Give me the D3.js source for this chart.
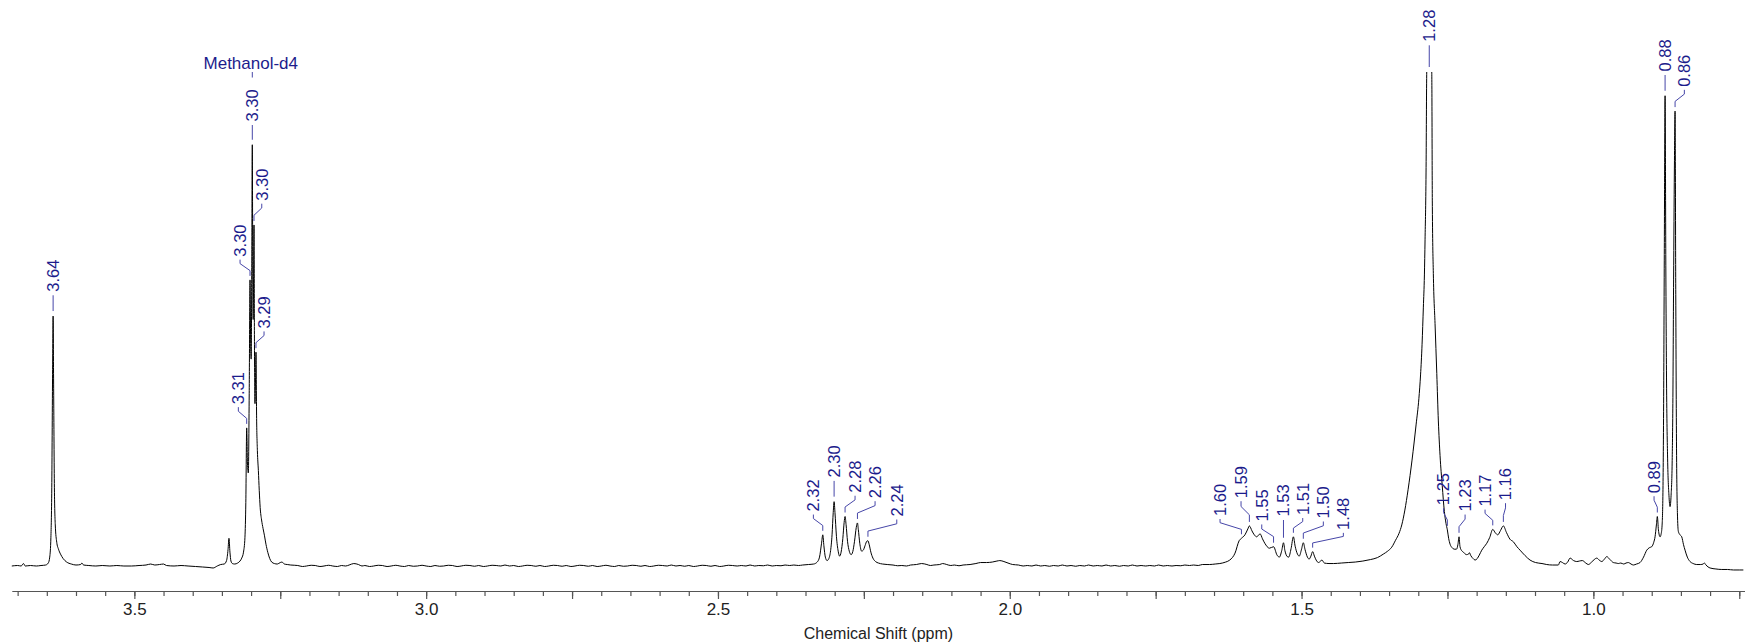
<!DOCTYPE html>
<html><head><meta charset="utf-8">
<script src="https://cdn.jsdelivr.net/npm/d3@7"></script>
<style>
html,body{margin:0;padding:0;background:#fff;}
svg{display:block;font-family:"Liberation Sans", Arial, sans-serif;}
</style></head><body>
<svg id="chart" width="1745" height="644"></svg>
<script>
// ---- DATA ----
// spectrum: [chemical shift (ppm), intensity (relative, 1.28 ppm peak = 100 at plot top)]
const spectrum = [
[3.710,0.2],[3.700,0.3],[3.694,0.2],[3.690,0.7],[3.687,0.2],[3.678,0.3],[3.668,0.2],[3.660,0.3],[3.652,0.4],
[3.6475,0.8],[3.645,2.0],[3.643,6],[3.6415,16],[3.6402,38],[3.6392,50.7],[3.6383,36],[3.6370,16],[3.6355,8.5],
[3.633,5],[3.630,3.6],[3.6265,2.6],[3.622,1.7],[3.616,1.0],[3.608,0.6],[3.600,0.4],[3.592,0.5],[3.590,0.8],
[3.587,0.4],[3.578,0.3],[3.566,0.2],[3.555,0.3],[3.542,0.2],[3.530,0.3],[3.518,0.2],[3.505,0.2],[3.492,0.3],
[3.480,0.4],[3.472,0.6],[3.465,0.4],[3.457,0.5],[3.450,0.6],[3.445,0.3],[3.432,0.2],[3.420,0.3],[3.408,0.2],
[3.395,0.1],[3.383,0.0],[3.372,-0.1],[3.365,-0.2],[3.358,0.2],[3.352,0.5],[3.346,0.6],[3.342,1.3],[3.3395,3.5],
[3.3379,5.8],[3.3362,3.0],[3.3345,1.2],[3.332,0.7],[3.328,0.6],[3.323,0.8],[3.319,1.2],[3.3160,1.8],[3.3130,3.0],
[3.3105,6],[3.3090,13],[3.3075,28.1],[3.3062,21],[3.3047,19],[3.3032,35],[3.3018,58],[3.3006,44],[3.2998,42],
[3.2988,62],[3.2979,85.3],[3.2971,58],[3.2964,50],[3.2957,58],[3.2950,69.1],[3.2942,45],[3.2933,33],[3.2925,37],
[3.2916,43.4],[3.2905,30],[3.2892,23.5],[3.2875,19.5],[3.2860,15.5],[3.2844,12],[3.2820,9.5],[3.2795,7.8],
[3.2770,6.3],[3.2745,4.6],[3.2712,2.9],[3.2680,1.7],[3.2647,1.0],[3.2600,0.7],[3.2550,0.6],[3.2500,0.9],
[3.2470,1.0],[3.2430,0.6],[3.2380,0.5],[3.2320,0.4],
[3.220,0.3],[3.212,0.1],[3.205,0.2],[3.197,0.35],[3.190,0.3],[3.182,0.1],[3.175,0.2],[3.167,0.35],[3.160,0.2],
[3.152,0.1],[3.145,0.3],[3.138,0.2],[3.132,0.4],[3.124,0.7],[3.116,0.5],[3.110,0.2],
[3.105,0.3],[3.097,0.1],[3.090,0.2],[3.082,0.35],[3.075,0.3],[3.067,0.1],[3.060,0.2],[3.052,0.35],[3.045,0.2],
[3.037,0.1],[3.030,0.3],[3.022,0.15],[3.015,0.2],[3.007,0.35],[3.000,0.2],[2.992,0.1],[2.985,0.3],
[2.977,0.15],[2.970,0.2],[2.962,0.35],[2.955,0.3],[2.947,0.1],[2.940,0.2],[2.932,0.35],[2.925,0.3],[2.917,0.15],
[2.910,0.3],[2.902,0.1],[2.895,0.2],[2.887,0.35],[2.880,0.3],[2.872,0.2],[2.865,0.4],[2.857,0.2],[2.850,0.3],
[2.842,0.1],[2.835,0.2],[2.827,0.35],[2.820,0.3],[2.812,0.15],[2.805,0.3],[2.797,0.1],[2.790,0.2],[2.782,0.35],
[2.775,0.3],[2.767,0.15],[2.760,0.3],[2.752,0.1],[2.745,0.2],[2.737,0.35],[2.730,0.3],[2.722,0.15],[2.715,0.3],
[2.707,0.1],[2.700,0.2],[2.692,0.35],[2.685,0.2],[2.677,0.1],[2.670,0.3],[2.662,0.15],[2.655,0.2],[2.647,0.35],
[2.640,0.3],[2.632,0.15],[2.625,0.3],[2.617,0.1],[2.610,0.2],[2.602,0.35],[2.595,0.3],[2.587,0.2],[2.580,0.4],
[2.572,0.2],[2.565,0.3],[2.557,0.15],[2.550,0.3],[2.542,0.1],[2.535,0.2],[2.527,0.35],[2.520,0.3],[2.512,0.15],
[2.505,0.3],[2.497,0.1],[2.490,0.2],[2.482,0.35],[2.475,0.3],[2.467,0.2],[2.460,0.3],[2.452,0.2],[2.445,0.4],
[2.437,0.2],[2.430,0.3],[2.422,0.25],[2.415,0.4],[2.407,0.2],[2.400,0.3],[2.392,0.25],[2.385,0.4],[2.377,0.3],
[2.370,0.4],[2.362,0.3],[2.355,0.4],[2.345,0.5],[2.336,0.6],[2.330,1.0],
[2.326,2.0],[2.3225,4.8],[2.3204,6.5],[2.3185,4.3],[2.3160,2.0],[2.3130,1.3],[2.3100,1.7],[2.3070,3.3],
[2.3045,6.5],[2.3025,11],[2.3010,13.2],[2.2995,11],[2.2970,6.2],[2.2940,3.2],[2.2915,2.2],[2.2890,3.0],
[2.2860,5.8],[2.2838,9.0],[2.2822,10.2],[2.2805,8.6],[2.2780,5.2],[2.2750,3.2],[2.2718,2.5],[2.2690,3.1],
[2.2660,5.2],[2.2630,8.0],[2.2610,8.9],[2.2595,7.6],[2.2570,4.8],[2.2538,3.2],[2.2510,3.4],[2.2480,4.3],
[2.2450,5.2],[2.2430,5.3],[2.2410,4.6],[2.2380,3.0],[2.2345,1.8],[2.2300,1.1],[2.2250,0.8],[2.2180,0.6],
[2.2100,0.5],[2.200,0.4],[2.192,0.25],[2.185,0.3],[2.177,0.2],[2.170,0.4],[2.160,0.5],[2.151,0.7],[2.142,0.5],
[2.136,0.3],[2.130,0.4],[2.120,0.5],[2.115,0.7],[2.108,0.5],[2.101,0.3],[2.095,0.4],[2.087,0.25],[2.080,0.4],
[2.068,0.5],[2.058,0.7],[2.050,0.9],[2.040,0.9],[2.030,1.0],
[2.022,1.2],[2.017,1.3],[2.010,1.1],[2.003,0.8],[1.995,0.5],[1.985,0.4],[1.977,0.2],[1.970,0.3],[1.962,0.2],
[1.955,0.4],[1.947,0.2],[1.940,0.3],[1.932,0.15],[1.925,0.3],[1.917,0.2],[1.910,0.4],[1.902,0.2],[1.895,0.3],
[1.887,0.15],[1.880,0.3],[1.872,0.2],[1.865,0.4],[1.857,0.2],[1.850,0.3],[1.842,0.2],[1.835,0.4],[1.827,0.2],
[1.820,0.3],[1.812,0.15],[1.805,0.3],[1.797,0.2],[1.790,0.4],[1.782,0.2],[1.775,0.3],[1.767,0.2],[1.760,0.3],
[1.752,0.2],[1.745,0.4],[1.737,0.2],[1.730,0.3],[1.722,0.2],[1.715,0.3],[1.707,0.25],[1.700,0.4],[1.692,0.3],
[1.685,0.4],[1.677,0.3],[1.670,0.5],
[1.658,0.5],[1.648,0.6],[1.640,0.7],[1.630,1.0],[1.623,1.4],[1.614,2.8],[1.607,5.3],[1.603,5.8],[1.597,6.5],
[1.592,7.7],[1.5894,8.3],[1.585,7.3],[1.581,6.5],[1.577,6.1],[1.571,6.7],[1.567,5.7],[1.563,4.8],[1.555,3.8],
[1.548,4.1],[1.542,2.4],[1.538,2.0],[1.534,3.3],[1.531,4.9],[1.5285,3.3],[1.5245,2.1],[1.522,2.0],[1.518,3.7],
[1.514,6.1],[1.511,4.2],[1.507,2.6],[1.504,2.2],[1.500,3.6],[1.497,4.9],[1.494,3.5],[1.490,2.0],[1.487,1.6],
[1.484,2.2],[1.481,3.1],[1.478,2.2],[1.475,1.4],[1.471,0.9],[1.465,1.4],[1.461,0.8],[1.453,0.7],[1.445,0.7],
[1.432,0.8],[1.420,0.9],[1.408,1.0],[1.395,1.2],[1.382,1.5],[1.370,1.9],[1.360,2.6],[1.3525,3.2],[1.3455,4.0],
[1.339,5.4],[1.3330,6.8],[1.3283,8.5],[1.3230,11.5],[1.3175,15.6],[1.3107,21.6],[1.3038,28.7],[1.2990,34],
[1.2961,38.8],[1.2935,45],[1.2913,52.5],[1.2895,59],[1.2884,66.1],[1.2867,79.6],[1.2855,100],[1.2812,112],
[1.2769,100],[1.2759,72.8],[1.2742,59.3],[1.2713,49.2],[1.2683,39.1],[1.2656,29.5],[1.2627,22.5],[1.2590,16.5],
[1.2553,11.2],[1.2525,8.8],[1.2502,7.5],[1.2480,5.8],[1.2455,4.6],[1.2420,3.9],[1.2385,3.6],[1.2345,3.6],
[1.2320,4.6],[1.2302,6.1],[1.2285,4.1],[1.2256,3.3],[1.2227,3.0],[1.2175,2.5],[1.2140,2.6],[1.2125,2.9],
[1.2100,2.3],[1.2060,1.7],[1.2027,1.4],[1.1990,1.7],[1.1955,2.4],[1.1912,3.4],[1.1870,4.1],[1.1826,4.8],
[1.1775,6.0],[1.1724,7.6],[1.1680,6.9],[1.1638,6.5],[1.1590,7.4],[1.1542,8.3],[1.1490,7.0],[1.1428,5.6],
[1.1371,5.1],[1.1310,4.1],[1.1256,3.4],[1.1170,2.3],[1.1085,1.4],[1.0990,0.9],[1.0880,0.7],[1.0799,0.5],
[1.0700,0.4],[1.0600,0.4],[1.0571,1.1],[1.0530,0.9],[1.0485,0.6],[1.0440,1.0],[1.0399,1.8],[1.0340,1.3],
[1.0285,1.1],[1.0240,1.2],[1.0189,1.3],[1.0130,0.8],[1.0086,0.5],[1.0030,1.0],[0.9985,1.5],[0.9942,1.8],
[0.9900,1.4],[0.9856,1.1],[0.9810,1.6],[0.9771,2.1],[0.9715,1.5],[0.9658,0.9],[0.9610,0.8],[0.9572,0.7],
[0.9530,0.8],[0.9480,0.6],[0.9440,0.8],[0.9400,0.9],[0.9355,0.6],[0.9315,0.4],[0.9260,0.6],[0.9200,0.9],
[0.9140,2.0],[0.9085,3.4],[0.9040,3.9],[0.9000,4.1],[0.8965,5.0],[0.8943,6.1],[0.8920,8.5],[0.8904,10.2],
[0.8885,7.5],[0.8857,6.1],[0.8840,6.6],[0.8823,8.3],[0.8808,15],[0.8796,33],[0.8785,62],[0.8771,95.2],
[0.8758,60],[0.8745,36],[0.8728,22],[0.8705,14.5],[0.8686,12.2],[0.8668,14.5],[0.8650,21],[0.8638,33],
[0.8625,58],[0.8612,80],[0.8600,92.1],[0.8588,55],[0.8575,24],[0.8560,11],[0.8544,7.2],[0.8515,6.5],
[0.8486,6.1],[0.8455,4.5],[0.8429,3.4],[0.8390,2.0],[0.8343,1.1],[0.8290,0.7],[0.8229,0.5],[0.8160,0.5],
[0.8120,0.6],[0.8098,0.8],[0.8070,0.4],[0.8000,-0.2],[0.7900,-0.4],[0.7800,-0.5],[0.7700,-0.5],[0.7600,-0.6],
[0.7500,-0.6],[0.7430,-0.6]
];

const tickLabels = [3.5, 3.0, 2.5, 2.0, 1.5, 1.0];
const axisTitle = "Chemical Shift (ppm)";

// peak picking annotations
const peakLabels = ["3.64","3.31","3.30","3.30","3.30","3.29","2.32","2.30","2.28","2.26","2.24",
  "1.60","1.59","1.55","1.53","1.51","1.50","1.48","1.28","1.25","1.23","1.17","1.16","0.89","0.88","0.86"];
const peakShift = [3.6392,3.3075,3.3018,3.2979,3.2950,3.2916,2.3204,2.3010,2.2822,2.2610,2.2430,
  1.6030,1.5894,1.5480,1.5310,1.5140,1.4970,1.4810,1.2812,1.2502,1.2302,1.1724,1.1542,0.8904,0.8771,0.8600];
const peakTop = [50.7,28.1,58,85.3,69.1,43.4,6.5,13.2,10.2,8.9,5.3,
  5.8,8.3,4.1,4.9,6.1,4.9,3.1,100,7.5,6.1,7.6,8.3,10.2,95.2,92.1];
// where each label text sits (shift, level of the text's lower end)
const labelShift = [3.6392,3.3218,3.3189,3.2979,3.2817,3.2778,2.3365,2.3010,2.2651,2.2308,2.1936,
  1.6397,1.6037,1.5682,1.5310,1.4980,1.4627,1.4284,1.2812,1.2567,1.2198,1.1856,1.1505,0.8960,0.8771,0.8441];
const labelLevel = [55.6,32.9,62.7,90.0,74.0,48.2,11.2,18.1,15.0,13.9,10.2,
  10.3,13.9,9.2,10.2,10.5,9.8,7.5,106.1,12.5,11.2,12.2,13.5,14.9,100.1,97.0];

const solventName = "Methanol-d4";
const solventShift = 3.3005;
const solventLevel = 100.6;

// ---- DRAW ----
const W = 1745, H = 644;
const x = d3.scaleLinear().domain([3.71, 0.74]).range([11.8, 1745.1]);
const y = d3.scaleLinear().domain([0, 100]).range([567, 72]);
const svg = d3.select("#chart");

svg.append("defs").append("clipPath").attr("id","plotClip")
  .append("rect").attr("x",0).attr("y",y(100)).attr("width",W).attr("height",H - y(100));

svg.append("path").datum(spectrum)
  .attr("clip-path","url(#plotClip)")
  .attr("fill","none").attr("stroke","#000").attr("stroke-width",1)
  .attr("stroke-linejoin","round")
  .attr("d", d3.line().x(d => x(d[0])).y(d => y(d[1])).curve(d3.curveMonotoneX));

// axis
const axisY = 591;
const minorTicks = d3.range(0, 60).map(i => +(3.70 - i*0.05).toFixed(2));
const majorTicks = minorTicks.filter(v => Math.round(v*100) % 25 === 0);

const gMinor = svg.append("g").attr("transform",`translate(0,${axisY})`)
  .call(d3.axisBottom(x).tickValues(minorTicks).tickSize(5).tickSizeOuter(0).tickFormat(""));
gMinor.select(".domain").attr("stroke","#555").attr("stroke-width",1.2);
gMinor.selectAll(".tick line").attr("stroke","#555").attr("stroke-width",1.2);

const gMajor = svg.append("g").attr("transform",`translate(0,${axisY})`)
  .call(d3.axisBottom(x).tickValues(majorTicks).tickSize(8).tickSizeOuter(0).tickFormat(""));
gMajor.select(".domain").remove();
gMajor.selectAll(".tick line").attr("stroke","#555").attr("stroke-width",1.2);

const gLab = svg.append("g").attr("transform",`translate(0,${axisY})`)
  .call(d3.axisBottom(x).tickValues(tickLabels).tickSize(0).tickPadding(12).tickFormat(d3.format(".1f")));
gLab.select(".domain").remove();
gLab.selectAll(".tick text").attr("font-size","17px").attr("fill","#222")
  .attr("font-family",'"Liberation Sans", Arial, sans-serif');

svg.append("text").attr("x",(x.range()[0]+x.range()[1])/2).attr("y",639)
  .attr("text-anchor","middle").attr("font-size","16px").attr("fill","#222").text(axisTitle);

// peak labels
const labColor = "#1c1c8c", leadColor = "#4646a8";
const gAnn = svg.append("g");
peakLabels.forEach((t, i) => {
  const xl = x(labelShift[i]), yb = y(labelLevel[i]);
  const xp = x(peakShift[i]), yp = y(peakTop[i]);
  const G = yp - yb;
  let pts;
  if (Math.abs(xl - xp) < 1.5) {
    pts = [[xp, yb + 3.5], [xp, yp - 5]];
  } else {
    pts = [[xl, yb + 3], [xl, yb + 0.3*G], [xp, yp - 0.4*G], [xp, yp - 4]];
  }
  gAnn.append("path").attr("d", d3.line()(pts))
    .attr("fill","none").attr("stroke",leadColor).attr("stroke-width",1);
  gAnn.append("text")
    .attr("transform",`translate(${xl},${yb}) rotate(-90)`)
    .attr("dy","0.35em").attr("text-anchor","start")
    .attr("font-size","16.5px").attr("fill",labColor).text(t);
});

// solvent annotation
const xs = x(solventShift), ys = y(solventLevel);
svg.append("text").attr("x", xs).attr("y", ys).attr("text-anchor","middle")
  .attr("font-size","17px").attr("fill",labColor).text(solventName);
svg.append("line").attr("x1", x(3.2979)).attr("x2", x(3.2979)).attr("y1", ys + 3).attr("y2", ys + 8.5)
  .attr("stroke", leadColor).attr("stroke-width",1);
</script>
</body></html>
